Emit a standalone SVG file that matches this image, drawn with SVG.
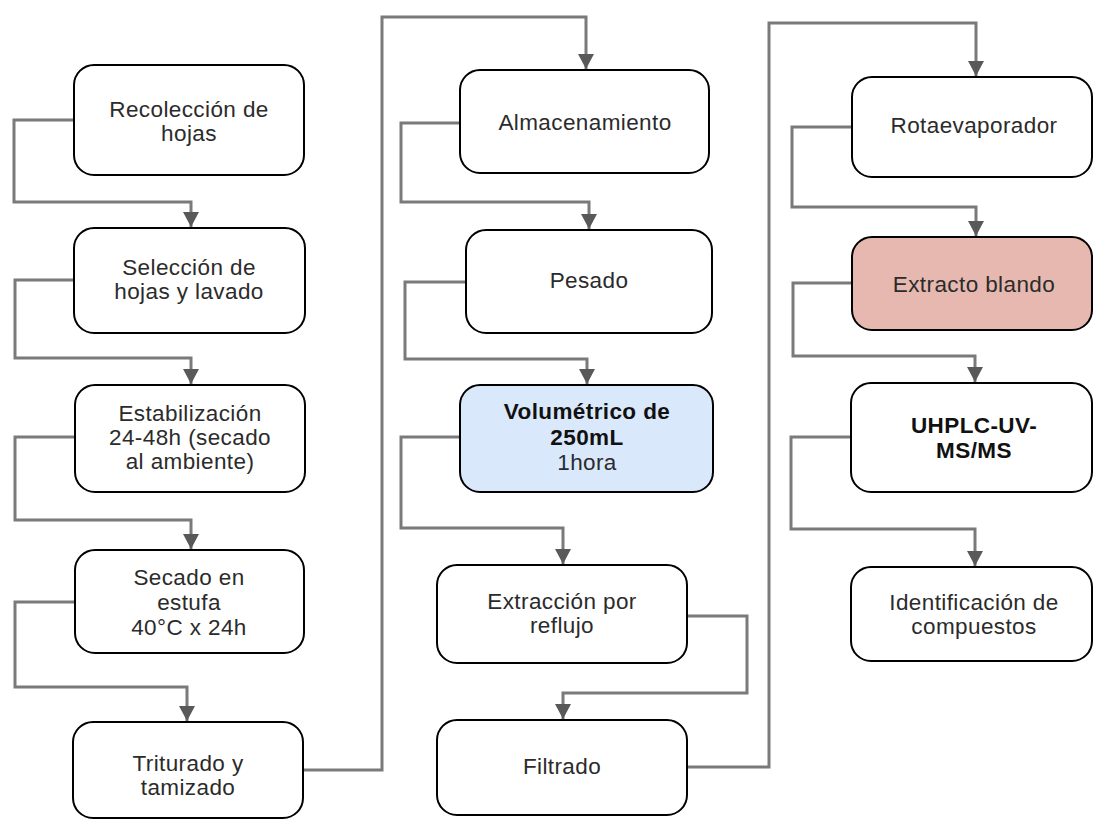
<svg xmlns="http://www.w3.org/2000/svg" width="1093" height="822" viewBox="0 0 1093 822">
<style>
.box{fill:#ffffff;stroke:#000000;stroke-width:2}
.blue{fill:#dae8fc}
.red{fill:#e6b8af}
.t{font-family:"Liberation Sans",Arial,sans-serif;font-size:22.5px;fill:#2b2b2b;text-anchor:middle;letter-spacing:0.4px}
.b{font-weight:bold;fill:#111111}
.c{fill:none;stroke:#7a7a7a;stroke-width:3}
</style>
<defs>
<marker id="ah" markerUnits="userSpaceOnUse" markerWidth="18" markerHeight="18" refX="15" refY="8" orient="auto">
<path d="M0,0 L15,8 L0,16 Z" fill="#595959"/>
</marker>
</defs>
<rect width="1093" height="822" fill="#ffffff"/>
<g id="connectors">
<path class="c" d="M74,120 H14 V202 H191 V227" marker-end="url(#ah)"/>
<path class="c" d="M74,280 H15 V358 H191 V384" marker-end="url(#ah)"/>
<path class="c" d="M75,437 H15 V520 H191 V549" marker-end="url(#ah)"/>
<path class="c" d="M75,602 H15 V687 H187 V721" marker-end="url(#ah)"/>
<path class="c" d="M303,770 H382 V17 H586 V69" marker-end="url(#ah)"/>
<path class="c" d="M460,123 H401 V202 H589 V229" marker-end="url(#ah)"/>
<path class="c" d="M466,282 H405 V359 H587 V384" marker-end="url(#ah)"/>
<path class="c" d="M460,437 H401 V528 H563 V564" marker-end="url(#ah)"/>
<path class="c" d="M687,616 H747 V693 H563 V719" marker-end="url(#ah)"/>
<path class="c" d="M687,767 H769 V23 H976 V76" marker-end="url(#ah)"/>
<path class="c" d="M852,127 H792 V207 H976 V236" marker-end="url(#ah)"/>
<path class="c" d="M852,283 H793 V356 H975 V382" marker-end="url(#ah)"/>
<path class="c" d="M851,437 H791 V529 H975 V566" marker-end="url(#ah)"/>
</g>
<g id="n1"><rect class="box" x="74" y="65" width="230" height="110" rx="20"/>
<text class="t" x="189" y="117">Recolección de</text><text class="t" x="189" y="141">hojas</text></g>
<g id="n2"><rect class="box" x="74" y="228" width="231" height="105" rx="20"/>
<text class="t" x="189" y="275">Selección de</text><text class="t" x="189" y="299">hojas y lavado</text></g>
<g id="n3"><rect class="box" x="75" y="385" width="230" height="107" rx="20"/>
<text class="t" x="190" y="421">Estabilización</text><text class="t" x="190" y="445">24-48h (secado</text><text class="t" x="190" y="469">al ambiente)</text></g>
<g id="n4"><rect class="box" x="75" y="550" width="229" height="103" rx="20"/>
<text class="t" x="189" y="585">Secado en</text><text class="t" x="189" y="610">estufa</text><text class="t" x="189" y="635">40°C x 24h</text></g>
<g id="n5"><rect class="box" x="73" y="722" width="230" height="96" rx="20"/>
<text class="t" x="188" y="771">Triturado y</text><text class="t" x="188" y="795">tamizado</text></g>
<g id="n6"><rect class="box" x="460" y="70" width="249" height="103" rx="20"/>
<text class="t" x="585" y="130">Almacenamiento</text></g>
<g id="n7"><rect class="box" x="466" y="230" width="246" height="103" rx="20"/>
<text class="t" x="589" y="288">Pesado</text></g>
<g id="n8"><rect class="box blue" x="460" y="385" width="253" height="107" rx="20"/>
<text class="t b" x="587" y="419">Volumétrico de</text><text class="t b" x="587" y="445">250mL</text><text class="t" x="587" y="470">1hora</text></g>
<g id="n9"><rect class="box" x="437" y="565" width="250" height="98" rx="20"/>
<text class="t" x="562" y="609">Extracción por</text><text class="t" x="562" y="633">reflujo</text></g>
<g id="n10"><rect class="box" x="437" y="720" width="250" height="95" rx="20"/>
<text class="t" x="562" y="774">Filtrado</text></g>
<g id="n11"><rect class="box" x="852" y="77" width="240" height="100" rx="20"/>
<text class="t" x="974" y="133">Rotaevaporador</text></g>
<g id="n12"><rect class="box red" x="852" y="237" width="240" height="93" rx="20"/>
<text class="t" x="974" y="292">Extracto blando</text></g>
<g id="n13"><rect class="box" x="851" y="383" width="241" height="109" rx="20"/>
<text class="t b" x="974" y="433">UHPLC-UV-</text><text class="t b" x="974" y="458">MS/MS</text></g>
<g id="n14"><rect class="box" x="851" y="567" width="241" height="94" rx="20"/>
<text class="t" x="974" y="610">Identificación de</text><text class="t" x="974" y="634">compuestos</text></g>
</svg>
